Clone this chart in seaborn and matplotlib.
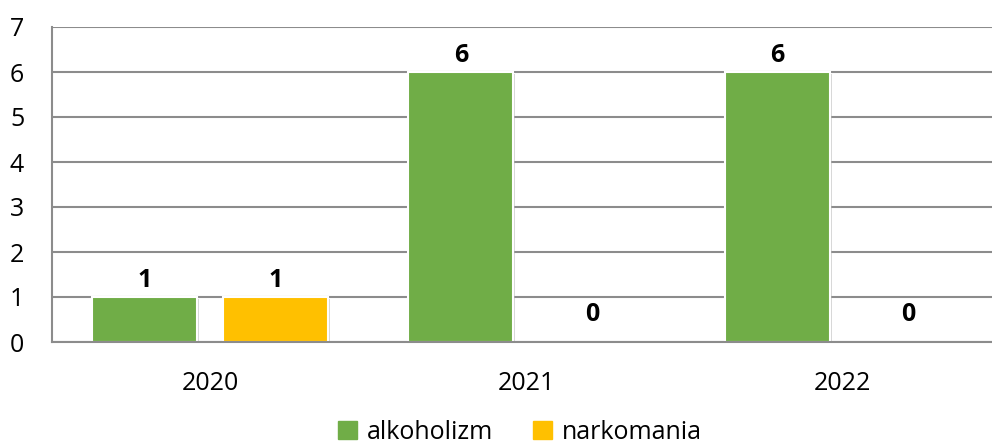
import numpy as np
import pandas as pd
import matplotlib.pyplot as plt
import matplotlib.patheffects as pe
import seaborn as sns

# Data
years = ['2020', '2021', '2022']
alkoholizm = [1, 6, 6]
narkomania = [1, 0, 0]

df = pd.DataFrame({
    'rok': years * 2,
    'liczba': alkoholizm + narkomania,
    'typ': ['alkoholizm'] * 3 + ['narkomania'] * 3,
})

sns.set_style('white')
plt.rcParams['font.family'] = ['Open Sans', 'DejaVu Sans']
plt.rcParams['text.color'] = 'black'
plt.rcParams['xtick.color'] = 'black'
plt.rcParams['ytick.color'] = 'black'

fig, ax = plt.subplots(figsize=(9.92, 4.43), dpi=100)
fig.subplots_adjust(left=52/992, right=1001/992, top=1-27/443, bottom=1-342/443)

palette = {'alkoholizm': '#70AD47', 'narkomania': '#FFC000'}
sns.barplot(data=df, x='rok', y='liczba', hue='typ', palette=palette,
            width=0.83, gap=0.2, saturation=1, edgecolor='white', linewidth=1.5,
            ax=ax, legend=True)

# soft shadow like in the original, skip empty bars
for p in ax.patches:
    if p.get_height() > 0:
        p.set_path_effects([pe.SimplePatchShadow(offset=(1.5, -1.5), shadow_rgbFace='#b0b0b0', alpha=0.5),
                            pe.Normal()])
    else:
        p.set_linewidth(0)

# value labels, zero labels sit a bit higher in the original
for c in ax.containers:
    for b in c:
        h = b.get_height()
        ax.annotate(f'{h:.0f}', (b.get_x() + b.get_width() / 2, h),
                    xytext=(0, 3 if h > 0 else 11), textcoords='offset points',
                    ha='center', va='bottom', fontsize=18, fontweight='bold', color='black')

ax.set_ylim(0, 7)
ax.set_yticks(range(0, 8))
ax.set_xlabel('')
ax.set_ylabel('')
ax.yaxis.grid(True, color='#8c8c8c', linewidth=1.5)
ax.set_axisbelow(True)
for s in ['top', 'right']:
    ax.spines[s].set_visible(False)
for s in ['left', 'bottom']:
    ax.spines[s].set_color('#8c8c8c')
    ax.spines[s].set_linewidth(1.5)
ax.tick_params(axis='y', length=0, pad=20, labelsize=18)
ax.tick_params(axis='x', length=0, pad=21, labelsize=18)

ax.legend_.remove()
handles = [plt.Rectangle((0, 0), 1, 1, color=palette[k]) for k in palette]
fig.legend(handles, list(palette.keys()), loc='lower center', bbox_to_anchor=(0.524, -0.055),
           ncol=2, frameon=False, fontsize=18, handlelength=0.75, handleheight=0.75,
           handletextpad=0.4, columnspacing=1.6)

plt.savefig('out.png', dpi=100)
